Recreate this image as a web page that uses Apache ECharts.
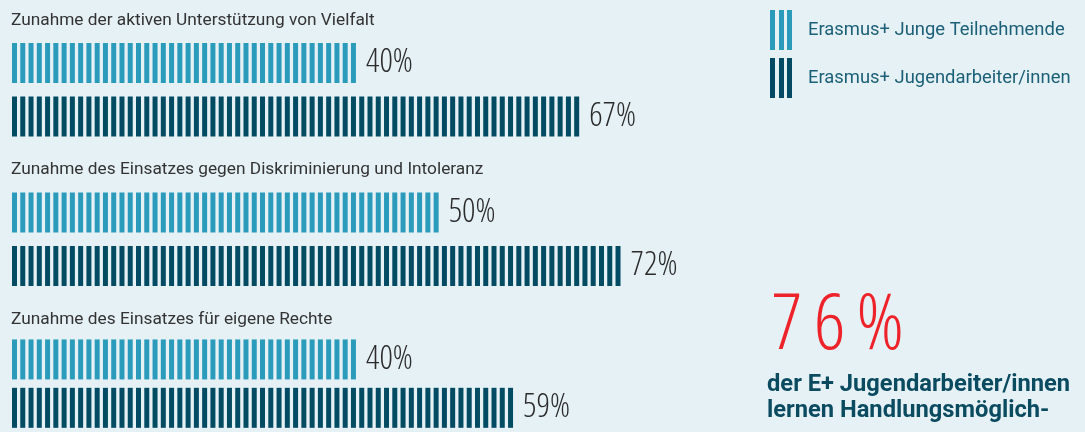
<!DOCTYPE html>
<html>
<head>
<meta charset="utf-8">
<script src="https://cdn.jsdelivr.net/npm/echarts@6/dist/echarts.min.js"></script>
<style>
html, body { margin: 0; padding: 0; background: #e6f1f6; }
#main { width: 1085px; height: 432px; }
</style>
</head>
<body>
<div id="main"></div>
<script>
// data
var categories = [
    'Zunahme der aktiven Unterstützung von Vielfalt',
    'Zunahme des Einsatzes gegen Diskriminierung und Intoleranz',
    'Zunahme des Einsatzes für eigene Rechte'
];
var seriesNames = ['Erasmus+ Junge Teilnehmende', 'Erasmus+ Jugendarbeiter/innen'];
var young = [40, 50, 40];
var workers = [67, 72, 59];
var highlightValue = '76%';
var highlightLines = ['der E+ Jugendarbeiter/innen', 'lernen Handlungsmöglich-'];

var colLight = '#2a9bba',
    colDark = '#024b62';

var grids = [], xAxes = [], yAxes = [], series = [], graphics = [];
var step = 149.5;

var makeSeries = function (name, color, data, i) {
    return {
        name: name,
        type: 'pictorialBar',
        xAxisIndex: i,
        yAxisIndex: i,
        symbol: 'rect',
        symbolRepeat: true,
        symbolSize: [5, 40],
        symbolMargin: 1.67,
        barGap: '-100%',
        itemStyle: { color: color },
        label: {
            show: true,
            position: 'right',
            distance: 10,
            formatter: '{c}%',
            color: '#2b2b2b',
            fontStyle: 'condensed',
            fontWeight: 300,
            fontFamily: '"Open Sans"',
            fontSize: 33
        },
        silent: true,
        data: data
    };
};

for (var i = 0; i < categories.length; i++) {
    grids.push({ left: 12, top: 36.25 + step * i, width: 840, height: 107 });
    xAxes.push({ type: 'value', gridIndex: i, min: 0, max: 100, show: false });
    yAxes.push({ type: 'category', gridIndex: i, data: ['a', 'b'], inverse: true, show: false });
    series.push(makeSeries(seriesNames[0], colLight, [young[i], '-'], i));
    series.push(makeSeries(seriesNames[1], colDark, ['-', workers[i]], i));
    graphics.push({
        type: 'text',
        x: 11,
        y: 20.3 + step * i,
        style: {
            text: categories[i],
            fill: '#333333',
            font: '17.3px Roboto',
            verticalAlign: 'middle'
        }
    });
}

// big number, spaced out a little like the original
var bigChars = highlightValue.split('').map(function (c, k) {
    return '{' + (k < highlightValue.length - 1 ? 's' : 'e') + '|' + c + '}';
}).join('');
var bigStyle = {
    fontStyle: 'condensed',
    fontWeight: 300,
    fontSize: 78,
    fontFamily: '"Open Sans"',
    fill: '#ee2229'
};
graphics.push({
    type: 'text',
    x: 771,
    y: 327,
    style: {
        text: bigChars,
        verticalAlign: 'middle',
        rich: {
            s: Object.assign({ padding: [0, 11, 0, 0] }, bigStyle),
            e: bigStyle
        }
    }
});
graphics.push({
    type: 'text',
    x: 767,
    y: 372,
    style: {
        text: highlightLines.join('\n'),
        fill: '#0b4b60',
        font: 'bold 23.7px Roboto',
        lineHeight: 26,
        verticalAlign: 'top'
    }
});

var stripes = 'path://M0,0H5V40H0Z M9,0H14V40H9Z M17,0H22V40H17Z';

var option = {
    backgroundColor: '#e6f1f6',
    animation: false,
    legend: {
        orient: 'vertical',
        left: 770,
        top: 10,
        padding: 0,
        itemWidth: 22,
        itemHeight: 40,
        itemGap: 8,
        selectedMode: false,
        textStyle: {
            color: '#1c6078',
            fontFamily: 'Roboto',
            fontSize: 18.4,
            padding: [0, 0, 0, 11]
        },
        data: [
            { name: seriesNames[0], icon: stripes, itemStyle: { color: colLight } },
            { name: seriesNames[1], icon: stripes, itemStyle: { color: colDark } }
        ]
    },
    grid: grids,
    xAxis: xAxes,
    yAxis: yAxes,
    graphic: graphics,
    series: series
};

var chart = echarts.init(document.getElementById('main'));
chart.setOption(option);
</script>
</body>
</html>
